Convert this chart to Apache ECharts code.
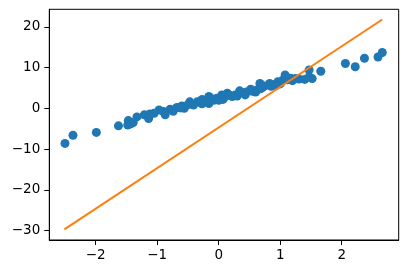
<!DOCTYPE html>
<html>
<head>
<meta charset="utf-8">
<script src="https://cdn.jsdelivr.net/npm/echarts@6/dist/echarts.min.js"></script>
<style>html,body{margin:0;padding:0;background:#fff;}#c{width:407px;height:274px;}</style>
</head>
<body>
<div id="c"></div>
<script>
// Scatter points
var pointX = [-2.50,-2.37,-1.99,-1.63,-1.48,-1.47,-1.39,-1.33,-1.21,-1.14,-1.12,-0.97,-0.87,-0.79,-0.74,-0.68,-0.60,-0.56,-0.47,-0.41,-0.35,-0.27,-0.27,-0.16,-0.16,-0.08,-0.03,0.05,0.07,0.14,0.22,0.27,0.34,0.43,0.52,0.62,0.67,0.71,0.83,0.96,1.04,1.08,1.17,1.20,1.31,1.40,1.47,1.47,1.52,1.66,2.06,2.22,2.37,2.59,2.66,
  -0.90,-0.50,-0.20,0.00,0.10,0.30,0.60,0.75,0.90,1.00,1.12,-0.62,-0.30,0.18,0.45,0.55,0.68,0.85,1.25,-1.05,-1.43,-0.12,0.38,0.93];
var pointY = [-8.6,-6.6,-5.9,-4.3,-4.1,-3.0,-3.5,-2.1,-1.6,-2.5,-1.4,-0.4,-1.6,-0.2,-0.7,0.2,0.6,0.0,1.6,0.8,1.6,2.2,1.1,2.9,1.2,2.0,2.5,3.3,2.2,3.7,2.9,3.3,4.3,3.3,4.7,4.5,6.1,5.1,6.1,6.5,6.9,8.2,7.4,6.8,7.2,7.1,9.4,7.7,7.3,9.1,11.0,10.2,12.3,12.6,13.7,
  -0.8,0.9,1.8,2.0,2.8,3.0,4.0,5.5,5.8,6.0,7.0,0.1,1.4,3.2,4.0,4.2,4.8,5.4,7.3,-1.2,-3.8,2.4,3.8,5.6];
// Fitted line endpoints
var lineX = [-2.51, 2.66];
var lineY = [-29.7, 21.8];
// Tick labels
var xTicks = [-2, -1, 0, 1, 2];
var yTicks = [-30, -20, -10, 0, 10, 20];

var scatterData = pointX.map(function(x, i){ return [x, pointY[i]]; });
var lineData = lineX.map(function(x, i){ return [x, lineY[i]]; });
function fmt(v){ return String(v).replace('-', '\u2212'); }

var chart = echarts.init(document.getElementById('c'), null, {renderer: 'canvas'});
chart.setOption({
  animation: false,
  backgroundColor: '#fff',
  grid: {left: 49.3, right: 8.3, top: 9.3, bottom: 34, show: true, borderColor: '#000', borderWidth: 1, backgroundColor: 'transparent'},
  xAxis: {
    type: 'value', min: -2.755, max: 2.927,
    splitLine: {show: false},
    axisLine: {show: true, onZero: false, lineStyle: {color: '#000', width: 1}},
    axisTick: {show: true, length: 5, lineStyle: {color: '#000'}, customValues: xTicks},
    axisLabel: {color: '#000', fontFamily: 'DejaVu Sans', fontSize: 13.5, margin: 8, customValues: xTicks, formatter: fmt}
  },
  yAxis: {
    type: 'value', min: -32.3, max: 24.3,
    splitLine: {show: false},
    axisLine: {show: true, onZero: false, lineStyle: {color: '#000', width: 1}},
    axisTick: {show: true, length: 5, lineStyle: {color: '#000'}, customValues: yTicks},
    axisLabel: {color: '#000', fontFamily: 'DejaVu Sans', fontSize: 13.5, margin: 9, customValues: yTicks, formatter: fmt}
  },
  series: [
    {type: 'scatter', data: scatterData, symbolSize: 9, itemStyle: {color: '#1f77b4', opacity: 1}, z: 2},
    {type: 'line', data: lineData, showSymbol: false, symbol: 'none', lineStyle: {color: '#ff7f0e', width: 2}, z: 3}
  ]
});
</script>
</body>
</html>
